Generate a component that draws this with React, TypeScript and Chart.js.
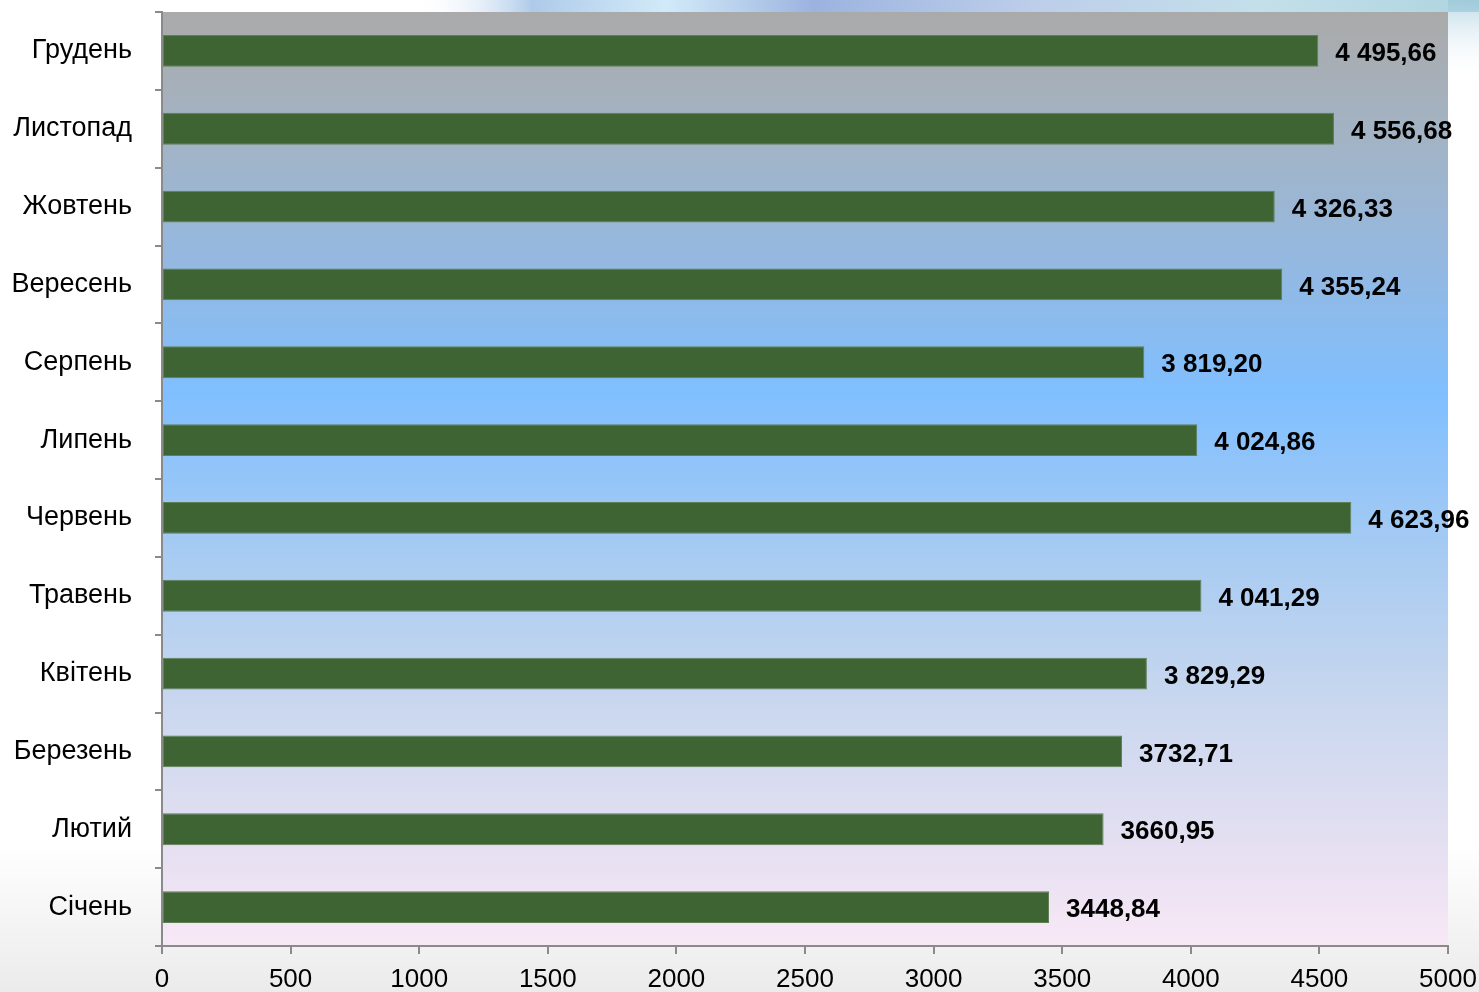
import React, { useEffect, useRef } from "react";
import { Chart, registerables } from "chart.js";

Chart.register(...registerables);

const months = [
  "Грудень",
  "Листопад",
  "Жовтень",
  "Вересень",
  "Серпень",
  "Липень",
  "Червень",
  "Травень",
  "Квітень",
  "Березень",
  "Лютий",
  "Січень",
];

const values = [
  4495.66, 4556.68, 4326.33, 4355.24, 3819.2, 4024.86, 4623.96, 4041.29, 3829.29,
  3732.71, 3660.95, 3448.84,
];

const valueLabels = [
  "4 495,66",
  "4 556,68",
  "4 326,33",
  "4 355,24",
  "3 819,20",
  "4 024,86",
  "4 623,96",
  "4 041,29",
  "3 829,29",
  "3732,71",
  "3660,95",
  "3448,84",
];

const xMin = 0;
const xMax = 5000;
const xStep = 500;

const FONT = "'Liberation Sans', Arial, sans-serif";

const backgroundPlugin = {
  id: "bgPlugin",
  beforeDraw(chart: any) {
    const { ctx, width, height, chartArea } = chart;
    ctx.save();
    const pg = ctx.createLinearGradient(0, 0, 0, height);
    pg.addColorStop(0, "#ffffff");
    pg.addColorStop(0.85, "#ffffff");
    pg.addColorStop(1, "#ebebeb");
    ctx.fillStyle = pg;
    ctx.fillRect(0, 0, width, height);

    const rb = ctx.createLinearGradient(0, 0, width, 0);
    rb.addColorStop(0, "rgba(255,255,255,0)");
    rb.addColorStop(0.28, "rgba(255,255,255,0)");
    rb.addColorStop(0.36, "rgba(140,180,225,0.7)");
    rb.addColorStop(0.45, "rgba(190,225,245,0.7)");
    rb.addColorStop(0.55, "rgba(130,160,215,0.8)");
    rb.addColorStop(0.7, "rgba(160,185,225,0.7)");
    rb.addColorStop(0.85, "rgba(170,210,225,0.7)");
    rb.addColorStop(1, "rgba(140,195,210,0.7)");
    ctx.fillStyle = rb;
    ctx.fillRect(0, 0, width, chartArea.top);

    const rs = ctx.createLinearGradient(0, 0, 0, 80);
    rs.addColorStop(0, "rgba(150,195,215,0.6)");
    rs.addColorStop(1, "rgba(255,255,255,0)");
    ctx.fillStyle = rs;
    ctx.fillRect(chartArea.right, 0, width - chartArea.right, 80);

    const g = ctx.createLinearGradient(0, chartArea.top, 0, chartArea.bottom);
    g.addColorStop(0, "#aaaaaa");
    g.addColorStop(0.13, "#a3b3c4");
    g.addColorStop(0.26, "#95b8df");
    g.addColorStop(0.41, "#80bfff");
    g.addColorStop(0.58, "#a7cbf2");
    g.addColorStop(0.74, "#c9d7ee");
    g.addColorStop(0.9, "#e6e0f2");
    g.addColorStop(1, "#f8e8f6");
    ctx.fillStyle = g;
    ctx.fillRect(
      chartArea.left,
      chartArea.top,
      chartArea.right - chartArea.left,
      chartArea.bottom - chartArea.top
    );
    ctx.restore();
  },
};

const valueLabelPlugin = {
  id: "valueLabels",
  afterDatasetsDraw(chart: any) {
    const { ctx } = chart;
    const meta = chart.getDatasetMeta(0);
    ctx.save();
    ctx.font = `bold 26px ${FONT}`;
    ctx.fillStyle = "#000000";
    ctx.textAlign = "left";
    ctx.textBaseline = "middle";
    meta.data.forEach((bar: any, i: number) => {
      ctx.fillText(valueLabels[i], bar.x + 17, bar.y + 3);
    });
    ctx.restore();
  },
};

export default function App() {
  const canvasRef = useRef<HTMLCanvasElement | null>(null);

  useEffect(() => {
    if (!canvasRef.current) return;
    const chart = new Chart(canvasRef.current, {
      type: "bar",
      data: {
        labels: months,
        datasets: [
          {
            data: values,
            backgroundColor: "#3d6432",
            borderColor: "#5f7f55",
            borderWidth: 1,
            borderSkipped: false,
            categoryPercentage: 1,
            barPercentage: 0.41,
          },
        ],
      },
      options: {
        indexAxis: "y",
        responsive: false,
        animation: false,
        devicePixelRatio: 1,
        layout: { padding: { top: 12, right: 31, left: 0, bottom: 0 } },
        plugins: {
          legend: { display: false },
          tooltip: { enabled: false },
          title: { display: false },
        },
        scales: {
          x: {
            min: xMin,
            max: xMax,
            ticks: {
              stepSize: xStep,
              color: "#000000",
              font: { family: FONT, size: 26 },
              padding: 10,
              maxRotation: 0,
              autoSkip: false,
              callback: (v: any) => String(v),
            },
            grid: {
              drawOnChartArea: false,
              drawTicks: true,
              tickLength: 8,
              color: "#8a8a8a",
              lineWidth: 2,
            },
            border: { display: true, color: "#8a8a8a", width: 2 },
            afterFit(scale: any) {
              scale.height = 46;
              scale.paddingLeft = 0;
              scale.paddingRight = 0;
            },
          },
          y: {
            ticks: {
              color: "#000000",
              font: { family: FONT, size: 27 },
              padding: 23,
              autoSkip: false,
            },
            grid: {
              offset: true,
              drawOnChartArea: false,
              drawTicks: true,
              tickLength: 7,
              color: "#8a8a8a",
              lineWidth: 2,
            },
            border: { display: true, color: "#8a8a8a", width: 2 },
            afterFit(scale: any) {
              scale.width = 162;
              scale.paddingTop = 0;
              scale.paddingBottom = 0;
            },
          },
        },
      },
      plugins: [backgroundPlugin, valueLabelPlugin],
    });
    return () => chart.destroy();
  }, []);

  return (
    <div style={{ position: "fixed", left: 0, top: 0, width: 1479, height: 992 }}>
      <canvas
        ref={canvasRef}
        width={1479}
        height={992}
        style={{ display: "block", width: 1479, height: 992 }}
      />
    </div>
  );
}
